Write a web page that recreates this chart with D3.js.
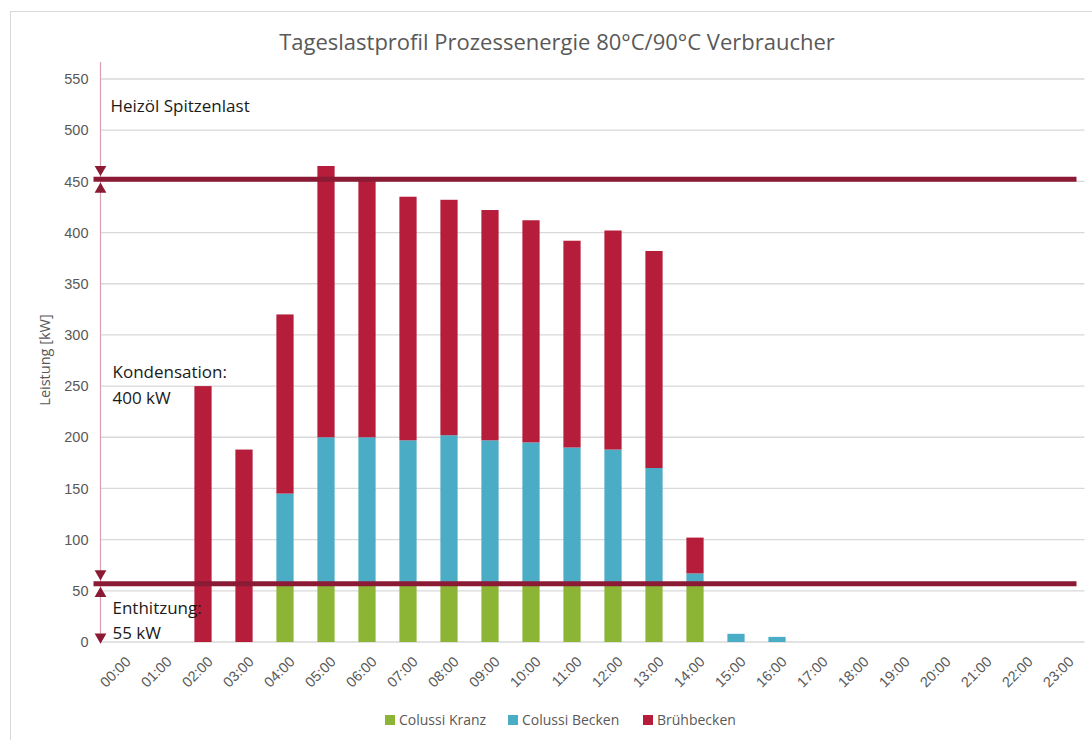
<!DOCTYPE html>
<html>
<head>
<meta charset="utf-8">
<script src="https://cdn.jsdelivr.net/npm/d3@7"></script>
<style>
  body { margin: 0; background: #fff; }
  svg { font-family: 'Open Sans', 'Noto Sans', sans-serif; }
</style>
</head>
<body>
<div id="graf"></div>
<script>
// I. Daten
stunden = ['00:00','01:00','02:00','03:00','04:00','05:00','06:00','07:00','08:00','09:00','10:00','11:00',
           '12:00','13:00','14:00','15:00','16:00','17:00','18:00','19:00','20:00','21:00','22:00','23:00']
serien = ['Colussi Kranz', 'Colussi Becken', 'Brühbecken']
kranz  = [0, 0, 0, 0, 55, 55, 55, 55, 55, 55, 55, 55, 55, 55, 55, 0, 0, 0, 0, 0, 0, 0, 0, 0]
becken = [0, 0, 0, 0, 90, 145, 145, 142, 147, 142, 140, 135, 133, 115, 12, 8, 5, 0, 0, 0, 0, 0, 0, 0]
bruehb = [0, 0, 250, 188, 175, 265, 252, 238, 230, 225, 217, 202, 214, 212, 35, 0, 0, 0, 0, 0, 0, 0, 0, 0]
yTicks = [0, 50, 100, 150, 200, 250, 300, 350, 400, 450, 500, 550]
grenzen = [452, 57]   // Spitzenlast / Enthitzung
farben = ['#8db535', '#4bacc6', '#b51d3a']

// II. Konfiguration
ancho_total = 1092
alto_total = 740
margins = { top: 79, left: 100.5, right: 7.5, bottom: 98 }
ancho = ancho_total - margins.left - margins.right
alto = alto_total - margins.top - margins.bottom

svg = d3.select('#graf').append('svg')
        .attr('width', ancho_total)
        .attr('height', alto_total)

// Rahmen
svg.append('rect')
   .attr('x', 10.5).attr('y', 11.5)
   .attr('width', 1100).attr('height', 740)
   .attr('fill', 'none').attr('stroke', '#d9d9d9')

g = svg.append('g')
       .attr('transform', `translate(${margins.left}, ${margins.top})`)

y = d3.scaleLinear().domain([0, 550]).range([alto, 0])
x = d3.scaleBand().domain(stunden).range([0, ancho]).paddingInner(0.58).paddingOuter(0.29)
color = d3.scaleOrdinal().domain(serien).range(farben)

// Gitterlinien
g.selectAll('.grid').data(yTicks).enter().append('line')
 .attr('x1', 0).attr('x2', ancho)
 .attr('y1', d => y(d)).attr('y2', d => y(d))
 .attr('stroke', '#d9d9d9').attr('stroke-width', 1.3)

// Achsen
yAxis = g.append('g').call(d3.axisLeft(y).tickValues(yTicks).tickSize(0).tickPadding(12))
yAxis.select('.domain').remove()
yAxis.selectAll('text').attr('fill', '#595959').style('font-size', '14.5px')

xAxis = g.append('g').attr('transform', `translate(0, ${alto})`)
         .call(d3.axisBottom(x).tickSize(0))
xAxis.select('.domain').remove()
xAxis.selectAll('text')
     .attr('fill', '#595959').style('font-size', '14.5px')
     .attr('text-anchor', 'end')
     .attr('x', 0).attr('y', 0)
     .attr('dx', 0).attr('dy', '0.35em')
     .attr('transform', 'translate(7, 17) rotate(-45)')

// Balken (gestapelt)
tabelle = stunden.map((s, i) => ({ stunde: s, 'Colussi Kranz': kranz[i], 'Colussi Becken': becken[i], 'Brühbecken': bruehb[i] }))
stapel = d3.stack().keys(serien)(tabelle)

g.selectAll('.serie').data(stapel).enter().append('g')
 .attr('fill', d => color(d.key))
 .selectAll('rect').data(d => d).enter().append('rect')
 .attr('x', d => x(d.data.stunde))
 .attr('width', x.bandwidth())
 .attr('y', d => y(d[1]))
 .attr('height', d => y(d[0]) - y(d[1]))

// Vertikale Maßlinie
g.append('line')
 .attr('x1', 0).attr('x2', 0)
 .attr('y1', -17).attr('y2', y(0) - 6)
 .attr('stroke', '#d9a0ad').attr('stroke-width', 1.2)

// Grenzlinien
g.selectAll('.grenze').data(grenzen).enter().append('line')
 .attr('x1', -7).attr('x2', ancho - 8)
 .attr('y1', d => y(d)).attr('y2', d => y(d))
 .attr('stroke', '#8b1a35').attr('stroke-width', 5)

// Pfeile
tri = d3.symbol().type(d3.symbolTriangle).size(60)
pfeile = [
  { v: grenzen[0], dy: -10, rot: 180 },
  { v: grenzen[0], dy: 10, rot: 0 },
  { v: grenzen[1], dy: -10, rot: 180 },
  { v: grenzen[1], dy: 10, rot: 0 },
  { v: 0, dy: -5, rot: 180 }
]
g.selectAll('.pfeil').data(pfeile).enter().append('path')
 .attr('d', tri)
 .attr('fill', '#8b1a35')
 .attr('transform', d => `translate(0, ${y(d.v) + d.dy}) rotate(${d.rot})`)

// Beschriftungen
notizen = [
  { t: 'Heizöl Spitzenlast', x: 10, y: 33 },
  { t: 'Kondensation:', x: 12, y: 299 },
  { t: '400 kW', x: 12, y: 325 },
  { t: 'Enthitzung:', x: 12, y: 535 },
  { t: '55 kW', x: 12, y: 560 }
]
g.selectAll('.notiz').data(notizen).enter().append('text')
 .attr('x', d => d.x).attr('y', d => d.y)
 .attr('fill', '#1a1a1a').style('font-size', '17px')
 .text(d => d.t)

// Titel
svg.append('text')
   .attr('x', 557).attr('y', 50)
   .attr('text-anchor', 'middle')
   .attr('fill', '#595959').style('font-size', '22px')
   .text('Tageslastprofil Prozessenergie 80°C/90°C Verbraucher')

// Achsentitel
svg.append('text')
   .attr('transform', 'translate(50, 360) rotate(-90)')
   .attr('text-anchor', 'middle')
   .attr('fill', '#595959').style('font-size', '14.5px')
   .text('Leistung [kW]')

// Legende
legX = [385, 508, 643]
leg = svg.selectAll('.leg').data(serien).enter().append('g')
         .attr('transform', (d, i) => `translate(${legX[i]}, 720)`)
leg.append('rect').attr('x', 0).attr('y', -5).attr('width', 10).attr('height', 10)
   .attr('fill', d => color(d))
leg.append('text').attr('x', 14).attr('y', 5)
   .attr('fill', '#595959').style('font-size', '14px')
   .text(d => d)
</script>
</body>
</html>
